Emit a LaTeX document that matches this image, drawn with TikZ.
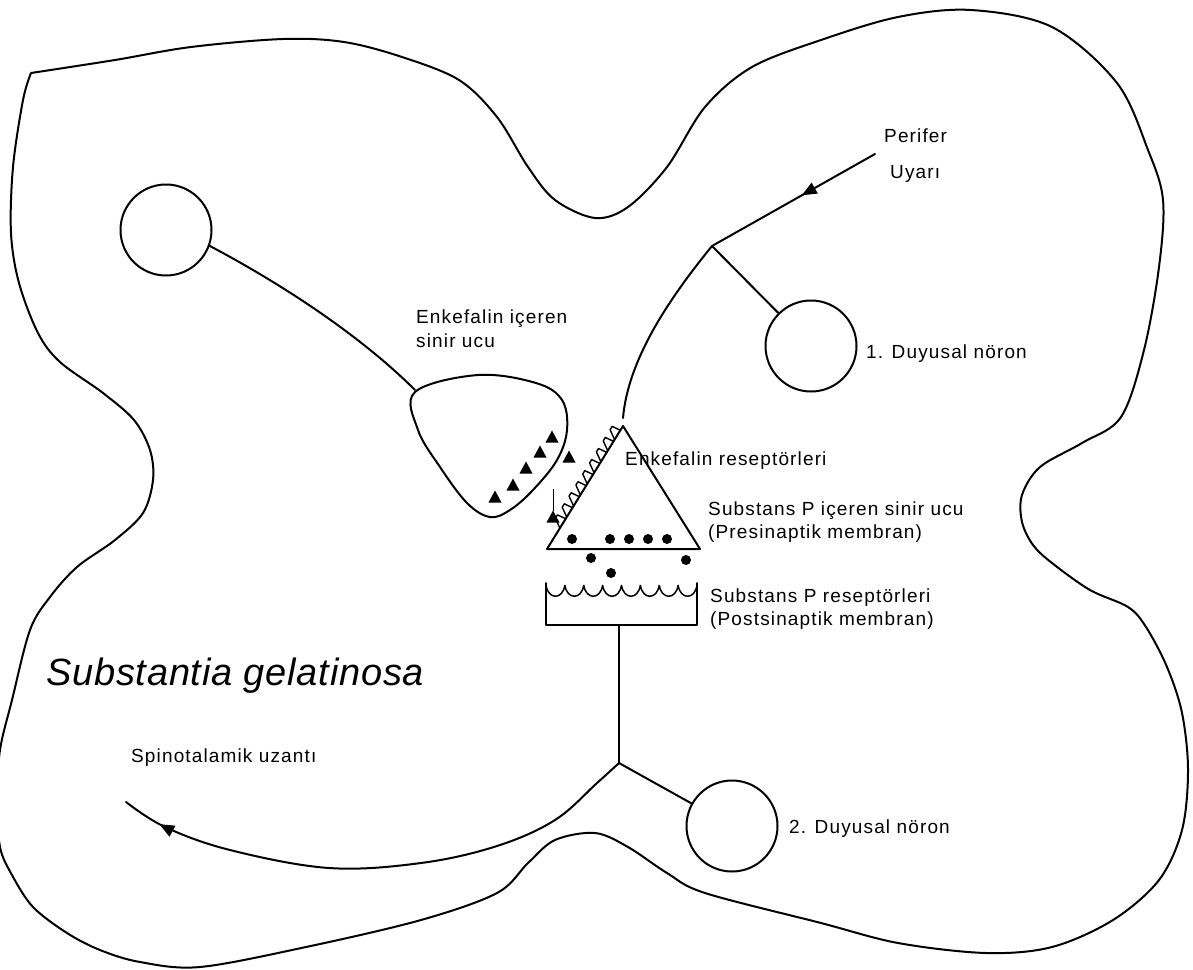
\documentclass[tikz,border=0pt]{standalone}
\usepackage{fontspec}
\setmainfont{Liberation Sans}[LetterSpace=6]
\newfontfamily\titlefont{Liberation Sans}[LetterSpace=2]
\usetikzlibrary{arrows.meta,decorations.markings}

\tikzset{
  ln/.style={line width=2pt, line join=round, line cap=round},
  soma/.style={circle, draw, line width=2pt, minimum size=91pt, inner sep=0pt},
  lbl/.style={anchor=base west, inner sep=0pt, font=\fontsize{19}{21}\selectfont},
  vesicle/.style={fill=black},
  midarrow/.style={postaction={decorate}, decoration={markings,
      mark=at position #1 with {\arrow{Triangle[length=15pt,width=12pt]}}}},
}

\newcommand{\enk}[2]{\fill (#1-6.5,#2+5.5) -- (#1+6.5,#2+5.5) -- (#1,#2-6.5) -- cycle;}

\begin{document}
\begin{tikzpicture}[x=1pt,y=-1pt]
\useasboundingbox (0,0) rectangle (1193,969);

% outline of the dorsal horn section
\draw[ln] plot[smooth, tension=0.55] coordinates {
  (31,73) (115,60) (191,47) (283,39) (344,42) (402,57) (459,80) (497,117)
  (528,167) (555,200) (595,218) (628,207) (667,167) (705,107) (752,67)
  (821,40) (898,17) (971,10) (1052,27) (1117,83) (1148,150) (1163,200)
  (1159,267) (1144,350) (1121,417) (1082,443) (1040,467) (1022,495)
  (1022,522) (1033,545) (1052,563) (1090,590) (1128,607) (1146,627)
  (1167,667) (1182,713) (1188,770) (1182,830) (1159,880) (1113,920)
  (1052,947) (986,953) (898,943) (821,923) (705,893) (667,873) (628,847)
  (595,833) (555,840) (528,863) (497,893) (421,920) (306,947) (200,967)
  (140,962) (100,950) (67,933) (33,907) (12,875) (0,847) (-3,800) (0,750)
  (12,700) (30,630) (50,597)
  (77,567) (115,540) (143,513) (153,480) (150,450) (134,420) (103,393)
  (60,362) (38,333) (19,283) (11,233) (13,167) (23,100) (31,73)};

% cell bodies
\node[soma] (c0) at (166,230) {};
\node[soma] (c1) at (811,346) {};
\node[soma] (c2) at (732,826) {};

% enkephalin terminal
\draw[ln] plot[smooth cycle, tension=0.6] coordinates {
  (415,392) (418,430) (440,467) (467,503) (490,517) (510,510) (533,490)
  (557,460) (567,430) (562,400) (536,383) (478,375)};
\coordinate (td) at (415,390);
\draw[ln] (c0.-20) .. controls (280,283) and (360,335) .. (td);

\enk{552}{437}
\enk{540}{452}
\enk{526}{468}
\enk{513}{485}
\enk{495}{497}
\enk{569}{457}
\enk{553}{517}
\draw[line width=1pt] (553,489) -- (553,511);

% substance P terminal (presynaptic)
\coordinate (apex) at (623,426);
\coordinate (bl) at (547,549);
\coordinate (br) at (700,549);
\draw[ln] (apex) -- (bl) -- (br) -- cycle;
% enkephalin receptors along the outer face
\draw[line width=1.4pt, line join=round]
  \foreach \s in {5,18,...,109} {
    ({623-0.526*\s},{426+0.851*\s})
    -- ({623-0.526*\s-0.851*9-0.526*1},{426+0.851*\s-0.526*9+0.851*1})
    -- ({623-0.526*\s-0.851*9-0.526*5},{426+0.851*\s-0.526*9+0.851*5})
    -- ({623-0.526*(\s+11)},{426+0.851*(\s+11)}) };

% vesicles and released transmitter
\foreach \x/\y in {572/539, 610/539, 629/539, 648/539, 667/539,
                   591/558, 686/560, 611/573}
  \fill[vesicle] (\x,\y) circle[radius=5];

% postsynaptic membrane with receptors
\draw[ln] (546,583) -- (546,625) -- (697,625) -- (697,583);
\draw[line width=1.5pt]
  \foreach \i in {0,...,7} {
    ({546+18.875*\i},585) .. controls ({548+18.875*\i},600) and ({562.875+18.875*\i},600) .. ({564.875+18.875*\i},585) };

% first sensory neuron
\coordinate (b1) at (712,246);
\coordinate (stim) at (875,154);
\coordinate (afend) at (623,418);
\draw[ln, midarrow=0.45] (stim) -- (b1);
\draw[ln] (b1) -- (c1);
\draw[ln] (b1) .. controls (668,300) and (628,360) .. (afend);

% second sensory neuron and spinothalamic projection
\coordinate (post) at (619,625);
\coordinate (b2) at (619,763);
\draw[ln] (post) -- (b2);
\draw[ln] (b2) -- (c2);
\draw[ln, midarrow=-40pt] plot[smooth, tension=0.6] coordinates {
  (619,763) (597,783) (555,820) (497,846) (421,863) (329,868) (230,850)
  (165,827) (126,802)};

% labels
\node[lbl] (tperif) at (884,142) {Perifer};
\node[lbl] (tuyari) at (890,178) {Uyarı};
\node[lbl] (tn1) at (866,358) {1. Duyusal nöron};
\node[lbl] (tenk1) at (416,323) {Enkefalin içeren};
\node[lbl] (tenk2) at (416,347) {sinir ucu};
\node[lbl] (trec) at (625,465) {Enkefalin reseptörleri};
\node[lbl] (tsp1) at (708,515) {Substans P içeren sinir ucu};
\node[lbl] (tsp2) at (708,538) {(Presinaptik membran)};
\node[lbl] (tspr1) at (710,602) {Substans P reseptörleri};
\node[lbl] (tspr2) at (710,625) {(Postsinaptik membran)};
\node[lbl] (tn2) at (789,833) {2. Duyusal nöron};
\node[lbl] (tspino) at (131,762) {Spinotalamik uzantı};
\node[anchor=base west, inner sep=0pt,
      font=\titlefont\fontsize{38}{40}\selectfont\itshape] (tsg) at (46,685)
  {Substantia gelatinosa};
\end{tikzpicture}
\end{document}
